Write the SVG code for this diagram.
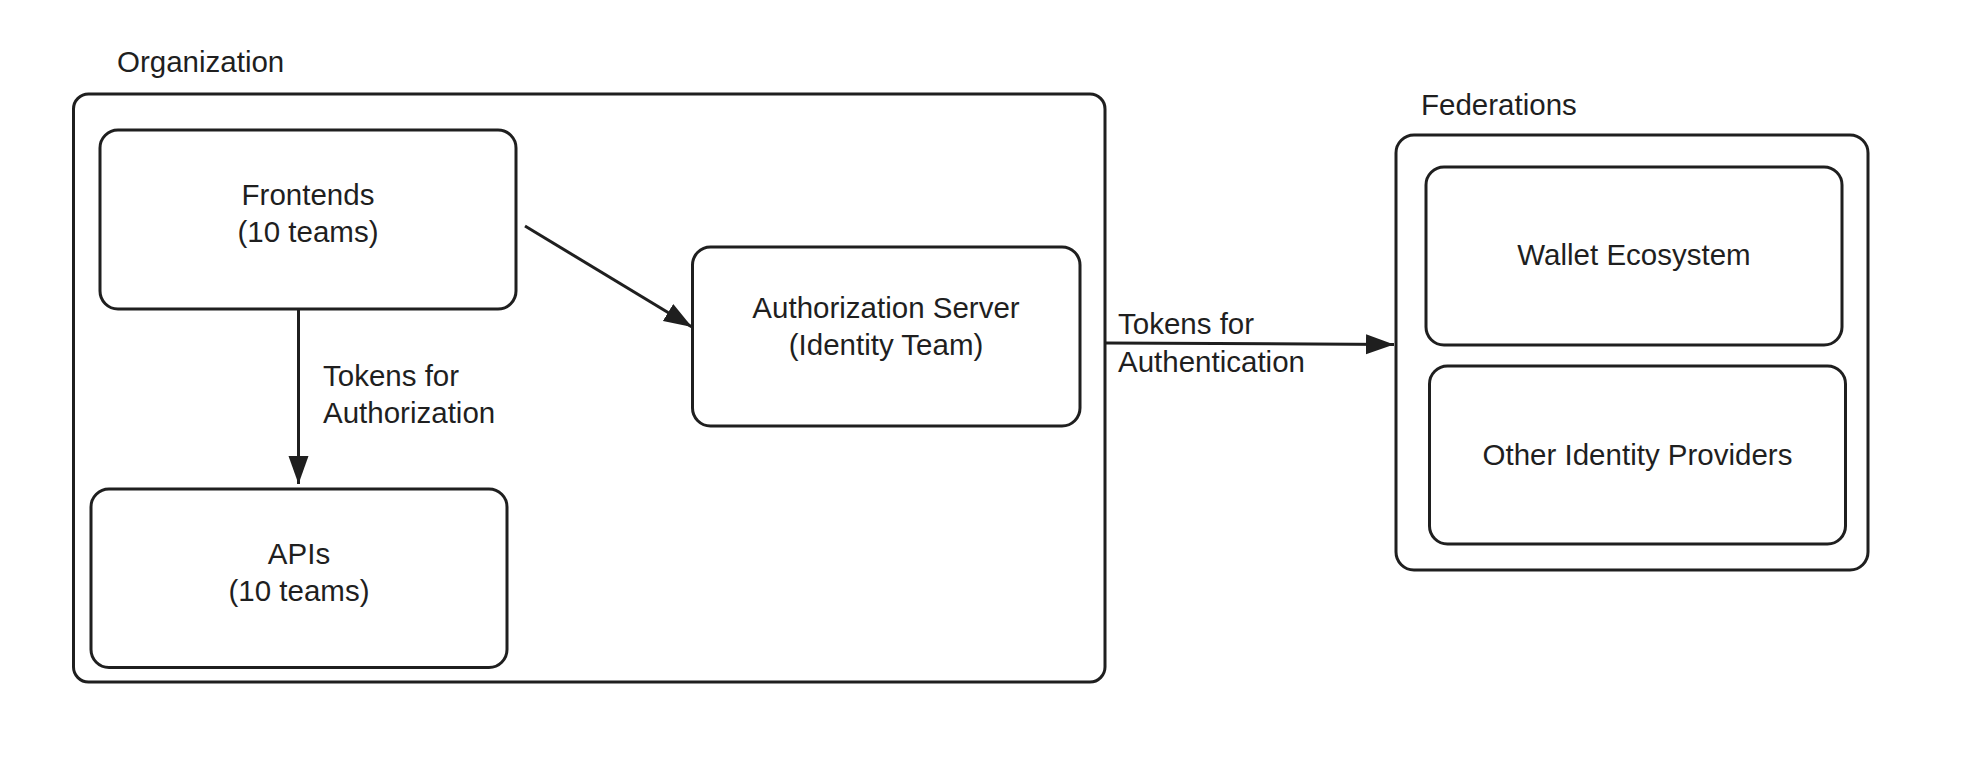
<svg xmlns="http://www.w3.org/2000/svg" width="1980" height="765" viewBox="0 0 1980 765">
<style>
.box{fill:none;stroke:#1f1f1f;stroke-width:3}
.t{font-family:"Liberation Sans",Arial,sans-serif;font-size:29.5px;fill:#1f1f1f}
.c{text-anchor:middle}
.edge{fill:none;stroke:#1f1f1f;stroke-width:3}
</style>
<defs>
<marker id="arr" markerUnits="userSpaceOnUse" markerWidth="30" markerHeight="22" refX="28" refY="11" orient="auto">
<path d="M0,1 L28,11 L0,21 z" fill="#1f1f1f"/>
</marker>
</defs>
<rect width="1980" height="765" fill="#ffffff"/>
<g id="organization">
<rect class="box" x="73.5" y="94" width="1031.5" height="588" rx="15"/>
<text class="t" x="117" y="72">Organization</text>
</g>
<g id="frontends">
<rect class="box" x="100" y="130" width="416" height="179" rx="18"/>
<text class="t c" x="308" y="205">Frontends</text>
<text class="t c" x="308" y="242">(10 teams)</text>
</g>
<g id="apis">
<rect class="box" x="91" y="489" width="416" height="178.5" rx="18"/>
<text class="t c" x="299" y="564">APIs</text>
<text class="t c" x="299" y="601">(10 teams)</text>
</g>
<g id="auth-server">
<rect class="box" x="692.5" y="247" width="387.5" height="179" rx="18"/>
<text class="t c" x="886" y="318">Authorization Server</text>
<text class="t c" x="886" y="355">(Identity Team)</text>
</g>
<g id="federations">
<rect class="box" x="1396" y="135" width="472" height="435" rx="18"/>
<text class="t" x="1421" y="115">Federations</text>
</g>
<g id="wallet">
<rect class="box" x="1426" y="167" width="416" height="178" rx="18"/>
<text class="t c" x="1634" y="265">Wallet Ecosystem</text>
</g>
<g id="other-idp">
<rect class="box" x="1429.5" y="366" width="416" height="178" rx="18"/>
<text class="t c" x="1637.5" y="465">Other Identity Providers</text>
</g>
<g id="connectors">
<line class="edge" x1="298.5" y1="309" x2="298.5" y2="484" marker-end="url(#arr)"/>
<line class="edge" x1="525" y1="226" x2="692" y2="327" marker-end="url(#arr)"/>
<line class="edge" x1="1105" y1="343" x2="1394" y2="344.5" marker-end="url(#arr)"/>
<text class="t" x="323" y="386">Tokens for</text>
<text class="t" x="323" y="423">Authorization</text>
<text class="t" x="1118" y="334">Tokens for</text>
<text class="t" x="1118" y="372">Authentication</text>
</g>
</svg>
